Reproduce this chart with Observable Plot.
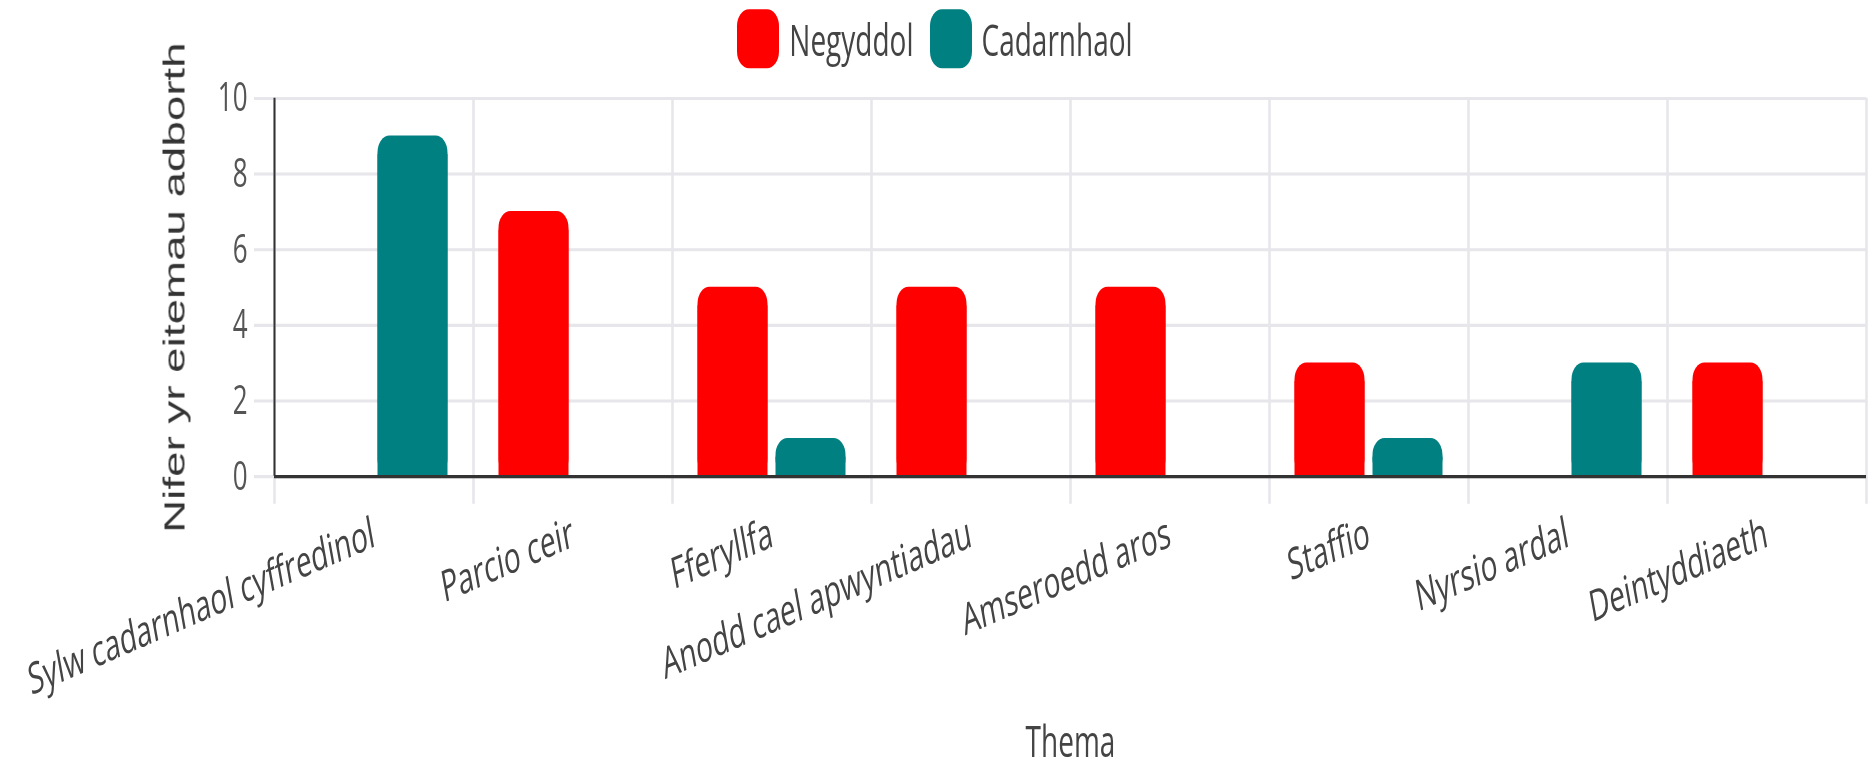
<!DOCTYPE html>
<html>
<head>
<meta charset="utf-8">
<script src="https://cdn.jsdelivr.net/npm/d3@7"></script>
<script src="https://cdn.jsdelivr.net/npm/@observablehq/plot@0.6"></script>
<style>
  html, body { margin: 0; padding: 0; background: #fff; }
  body { width: 1870px; height: 767px; overflow: hidden; }
  #wrap { position: relative; width: 1870px; height: 495px; transform: scaleY(1.55); transform-origin: 0 0; }
  #legend { position: absolute; left: 0; top: 0; width: 1870px; height: 50px; display: flex; justify-content: center; align-items: center;
            font-family: "Open Sans", sans-serif; font-size: 28px; color: #444; z-index: 2; }
  .item { display: flex; align-items: center; margin: 0 8px; }
  .sw { width: 42px; height: 38px; border-radius: 12px / 11px; margin-right: 10px; }
  #chart { position: absolute; left: 0; top: 0; }
  #chart svg { display: block; overflow: visible; }
</style>
</head>
<body>
<div id="wrap"><div id="chart"></div><div id="legend"></div></div>
<script>
// ---- data ----
const categories = [
  "Sylw cadarnhaol cyffredinol",
  "Parcio ceir",
  "Fferyllfa",
  "Anodd cael apwyntiadau",
  "Amseroedd aros",
  "Staffio",
  "Nyrsio ardal",
  "Deintyddiaeth"
];
const negyddol   = [0, 7, 5, 5, 5, 3, 0, 3];
const cadarnhaol = [9, 0, 1, 0, 0, 1, 3, 0];
const seriesNames  = ["Negyddol", "Cadarnhaol"];
const seriesColors = ["#ff0000", "#008080"];
const yTicks = [0, 2, 4, 6, 8, 10];
const xTitle = "Thema";
const yTitle = "Nifer yr eitemau adborth";

// ---- table ----
const seriesValues = [negyddol, cadarnhaol];
const rows = seriesNames.flatMap((s, si) =>
  categories.map((c, ci) => ({category: c, series: s, value: seriesValues[si][ci]})));

// ---- legend ----
const legend = document.getElementById("legend");
seriesNames.forEach((s, i) => {
  const it = document.createElement("div");
  it.className = "item";
  const sw = document.createElement("span");
  sw.className = "sw";
  sw.style.background = seriesColors[i];
  const tx = document.createElement("span");
  tx.textContent = s;
  it.appendChild(sw); it.appendChild(tx);
  legend.appendChild(it);
});

// ---- layout ----
const W = 1870, H = 495;
const mL = 274, mR = 4, mT = 63, mB = 188;
const bw = (W - mL - mR) / categories.length;
const barW = 70, gap = 8;
const outer = (bw - 2 * barW - gap) / 2;
const grid = "#e6e6eb";
const dark = "#333";

const barMarks = seriesNames.flatMap((s, si) => {
  const insetLeft = outer + si * (barW + gap);
  const insetRight = bw - insetLeft - barW;
  const common = {
    filter: d => d.series === s && d.value > 0,
    x: "category", y: "value", fill: "series", insetLeft, insetRight
  };
  return [
    Plot.barY(rows, {...common, rx: 12, ry: 11}),
    Plot.barY(rows, {...common, insetTop: 12})
  ];
});

const chart = Plot.plot({
  width: W, height: H,
  marginLeft: mL, marginRight: mR, marginTop: mT, marginBottom: mB,
  style: {fontFamily: "'Open Sans', sans-serif", fontSize: "28px", color: "#444", background: "transparent", overflow: "visible"},
  x: {domain: categories, padding: 0, label: null},
  y: {domain: [0, 10], label: null},
  color: {domain: seriesNames, range: seriesColors},
  marks: [
    Plot.ruleY(yTicks, {stroke: grid, strokeWidth: 2, insetLeft: -20}),
    Plot.ruleX(categories, {stroke: grid, strokeWidth: 2.5, dx: -bw / 2, insetBottom: -18}),
    Plot.ruleX([categories[categories.length - 1]], {stroke: grid, strokeWidth: 2.5, dx: bw / 2, insetBottom: -18}),
    ...barMarks,
    Plot.ruleX([categories[0]], {stroke: dark, strokeWidth: 2, dx: -bw / 2}),
    Plot.ruleY([0], {stroke: dark, strokeWidth: 2.2}),
    Plot.axisY({ticks: yTicks, tickSize: 0, tickPadding: 27, fontSize: 26, color: "#555", label: null}),
    Plot.axisX({tickSize: 0, tickPadding: 36, tickRotate: -15.6, fontSize: 28, color: "#444", label: null}),
    Plot.text([yTitle], {frameAnchor: "left", textAnchor: "middle", rotate: -90, dx: -99, fontSize: 29.5,
      fontFamily: "'Liberation Sans', Arial, sans-serif", fill: "#333"}),
    Plot.text([xTitle], {frameAnchor: "bottom", textAnchor: "middle", dy: 181, fontSize: 28, fill: "#444"})
  ]
});
document.getElementById("chart").appendChild(chart);
</script>
</body>
</html>
